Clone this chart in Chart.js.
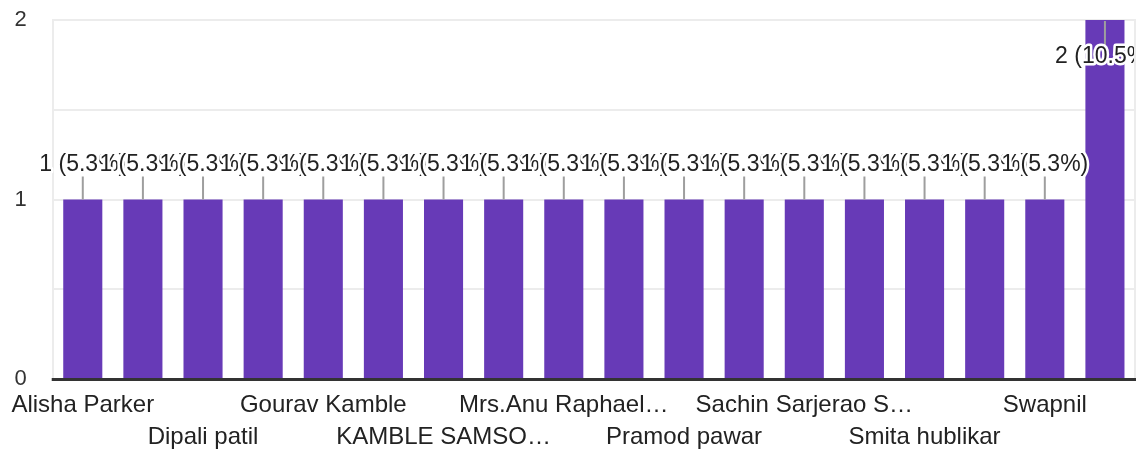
<!DOCTYPE html>
<html>
<head>
<meta charset="utf-8">
<style>
  html, body { margin: 0; padding: 0; background: #fff; }
  #wrap { width: 1148px; height: 455px; }
</style>
</head>
<body>
<div id="wrap"><canvas id="barChart"></canvas></div>
<script src="https://cdn.jsdelivr.net/npm/chart.js"></script>
<script>
    // names as shown on the axis; every second name is hidden in the original, so left blank
    var categories = ['Alisha Parker', '', 'Dipali patil', '', 'Gourav Kamble', '', 'KAMBLE SAMSO\u2026', '',
        'Mrs.Anu Raphael\u2026', '', 'Pramod pawar', '', 'Sachin Sarjerao S\u2026', '', 'Smita hublikar', '',
        'Swapnil', ''];
    var responses = [1, 1, 1, 1, 1, 1, 1, 1, 1, 1, 1, 1, 1, 1, 1, 1, 1, 2];
    var yMax = 2;

    var FONT = '"Liberation Sans", Arial, sans-serif';
    var total = responses.reduce(function (a, b) { return a + b; }, 0);

    var barLabels = {
        id: 'barLabels',
        afterDatasetsDraw: function (chart) {
            var ctx = chart.ctx;
            var area = chart.chartArea;
            var meta = chart.getDatasetMeta(0);
            ctx.save();
            ctx.beginPath();
            ctx.rect(0, 0, area.right, chart.height);
            ctx.clip();
            meta.data.forEach(function (bar, i) {
                var v = responses[i];
                var txt = v + ' (' + (v / total * 100).toFixed(1) + '%)';
                var top = bar.y;
                var above = top - area.top > 60;
                var y0 = above ? top : top + 1;
                var y1 = above ? top - 23 : top + 25;
                var ty = above ? top - 35 : top + 37;
                ctx.strokeStyle = '#9e9e9e';
                ctx.lineWidth = 2;
                ctx.beginPath();
                ctx.moveTo(bar.x, y0);
                ctx.lineTo(bar.x, y1);
                ctx.stroke();
                ctx.font = '23px ' + FONT;
                ctx.textAlign = 'center';
                ctx.textBaseline = 'middle';
                ctx.lineJoin = 'round';
                ctx.strokeStyle = '#fff';
                ctx.lineWidth = 5;
                ctx.strokeText(txt, bar.x, ty);
                ctx.fillStyle = '#222';
                ctx.fillText(txt, bar.x, ty);
            });
            ctx.restore();

            // frame: right edge and dark baseline
            ctx.save();
            ctx.strokeStyle = '#ececec';
            ctx.lineWidth = 2;
            ctx.beginPath();
            ctx.moveTo(area.right, area.top - 1);
            ctx.lineTo(area.right, area.bottom);
            ctx.stroke();
            ctx.strokeStyle = '#333';
            ctx.lineWidth = 3;
            ctx.beginPath();
            ctx.moveTo(area.left - 1, area.bottom + 0.5);
            ctx.lineTo(area.right + 1, area.bottom + 0.5);
            ctx.stroke();
            ctx.restore();
        }
    };

    var ctx = document.getElementById('barChart').getContext('2d');
    var myBarChart = new Chart(ctx, {
        type: 'bar',
        data: {
            labels: categories,
            datasets: [{
                data: responses,
                backgroundColor: '#673ab7',
                barPercentage: 0.65,
                categoryPercentage: 1
            }]
        },
        options: {
            responsive: true,
            maintainAspectRatio: false,
            animation: false,
            layout: { padding: { top: 20, right: 13, left: 0, bottom: 0 } },
            plugins: {
                legend: { display: false },
                tooltip: { enabled: false }
            },
            scales: {
                x: {
                    afterFit: function (scale) {
                        scale.height = 76;
                        scale.paddingTop = 0;
                        scale.paddingBottom = 0;
                    },
                    grid: { display: false, drawTicks: false },
                    border: { display: false },
                    ticks: {
                        autoSkip: false,
                        maxRotation: 0,
                        padding: 10,
                        color: '#222',
                        font: { family: FONT, size: 24, lineHeight: 32 / 24 },
                        callback: function (val, i) {
                            var name = categories[i];
                            return (i % 4 === 2) ? ['', name] : name;
                        }
                    }
                },
                y: {
                    min: 0,
                    max: yMax,
                    afterFit: function (scale) {
                        scale.width = 51;
                        scale.paddingTop = 0;
                        scale.paddingBottom = 0;
                    },
                    grid: { color: '#ececec', lineWidth: 2, drawTicks: false },
                    border: { display: true, color: '#ececec', width: 2 },
                    ticks: {
                        stepSize: 0.5,
                        padding: 26,
                        color: '#333',
                        font: { family: FONT, size: 22 },
                        callback: function (v) { return Number.isInteger(v) ? v : ''; }
                    }
                }
            }
        },
        plugins: [barLabels]
    });
</script>
</body>
</html>
